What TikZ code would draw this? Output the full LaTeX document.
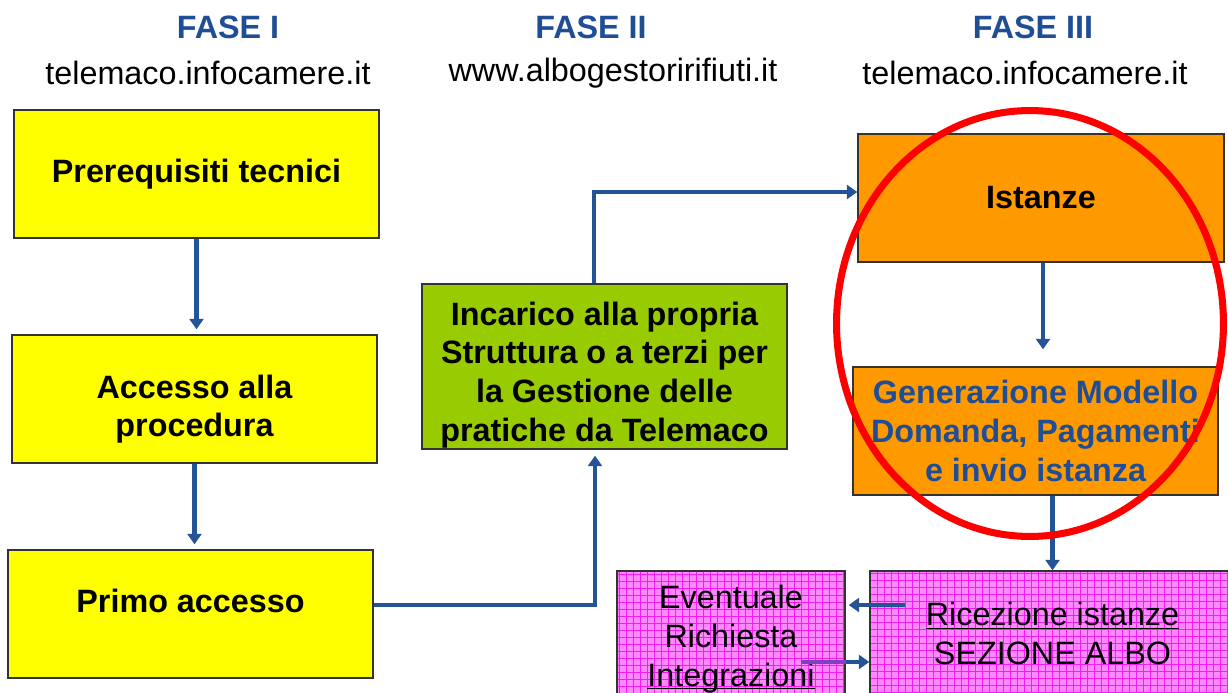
\documentclass[tikz,border=0pt]{standalone}
\usepackage{fontspec}
\setmainfont{Liberation Sans}
\usepackage{xcolor}
\usepackage{tikz}
\usetikzlibrary{arrows.meta}

\definecolor{fblue}{RGB}{31,78,150}
\definecolor{ablue}{RGB}{36,84,150}
\definecolor{fyellow}{RGB}{255,255,0}
\definecolor{fgreen}{RGB}{153,204,0}
\definecolor{forange}{RGB}{255,153,0}
\definecolor{fpink}{RGB}{255,135,255}
\definecolor{fgrid}{RGB}{240,30,240}
\definecolor{fviolet}{RGB}{128,64,192}

\begin{document}
\begin{tikzpicture}[x=0.02cm, y=-0.02cm,
		txt/.style={font=\fontsize{18.4}{22}\selectfont, align=center, inner sep=0pt},
		fase/.style={txt, font=\fontsize{18.4}{22}\selectfont\bfseries, text=fblue},
		box/.style={txt, draw=black!80, line width=0.8pt, font=\fontsize{18.4}{22}\selectfont\bfseries, minimum width=7.3cm, minimum height=2.56cm},
		pinkbox/.style={box, font=\fontsize{18.4}{22}\selectfont, fill=fpink, minimum height=2.68cm,
			path picture={\draw[fgrid, line width=0.25pt, step=0.14cm, x=1cm, y=1cm] (path picture bounding box.south west) grid (path picture bounding box.north east);}},
		arr/.style={draw=ablue, line width=2.3pt, -{Triangle[length=6pt, width=8pt]}}]
	\useasboundingbox (0, 0) rectangle (1228, 693);
	\node[fase] at (228, 27) (f1) {FASE I};
	\node[fase] at (591, 27) (f2) {FASE II};
	\node[fase] at (1033, 27) (f3) {FASE III};
	\node[txt] at (208, 73) (w1) {telemaco.infocamere.it};
	\node[txt] at (613, 73) (w2) {www.albogestoririfiuti.it};
	\node[txt] at (1025, 73) (w3) {telemaco.infocamere.it};
	\node[box, fill=fyellow] at (196.5, 174) (a1) {Prerequisiti tecnici};
	\node[box, fill=fyellow, text height=1.65cm] at (194.5, 399) (a2) {Accesso alla\\procedura};
	\node[box, fill=fyellow, text depth=0.52cm] at (190.5, 614) (a3) {Primo accesso};
	\node[box, fill=fgreen, minimum height=3.3cm, text height=3.12cm] at (604.5, 366.5) (b1) {Incarico alla propria\\Struttura o a terzi per\\la Gestione delle\\pratiche da Telemaco};
	\node[box, fill=forange, minimum width=7.32cm] at (1041, 198) (c1) {Istanze};
	\node[box, fill=forange, text=fblue] at (1035.5, 431) (c2) {Generazione Modello\\Domanda, Pagamenti\\e invio istanza};
	\node[pinkbox, minimum width=4.56cm, text height=2.0cm] at (731, 638) (d1) {Eventuale\\Richiesta\\\underline{\smash{Integrazioni}}};
	\node[pinkbox, text depth=0.2cm] at (1052.5, 638) (d2) {\underline{Ricezione istanze}\\SEZIONE ALBO};
	\draw[arr, shorten >=0.1cm] (a1.south) -- (a1.south |- a2.north);
	\draw[arr, shorten >=0.1cm] (a2.south) -- (a2.south |- a3.north);
	\draw[arr] ([yshift=0.18cm]a3.east) -| ([xshift=-0.19cm, yshift=-0.12cm]b1.south);
	\draw[arr] ([xshift=-0.21cm]b1.north) |- ([yshift=0.12cm]c1.west);
	\draw[arr, shorten >=0.34cm] ([xshift=0.04cm]c1.south) -- ([xshift=0.04cm]c1.south |- c2.north);
	\draw[arr] (d2.north |- c2.south) -- (d2.north);
	\draw[arr] ([xshift=0.72cm, yshift=0.66cm]d2.west) -- ([xshift=0.06cm, yshift=0.66cm]d1.east);
	\draw[arr] ([xshift=-0.9cm, yshift=-0.48cm]d1.east) -- ([yshift=-0.48cm]d2.west);
	\draw[fviolet, line width=2.3pt] ([xshift=-0.9cm, yshift=-0.48cm]d1.east) -- ([yshift=-0.48cm]d1.east);
	\draw[red, line width=4pt] (1030, 323.5) ellipse [x radius=3.87cm, y radius=4.26cm];
\end{tikzpicture}
\end{document}
